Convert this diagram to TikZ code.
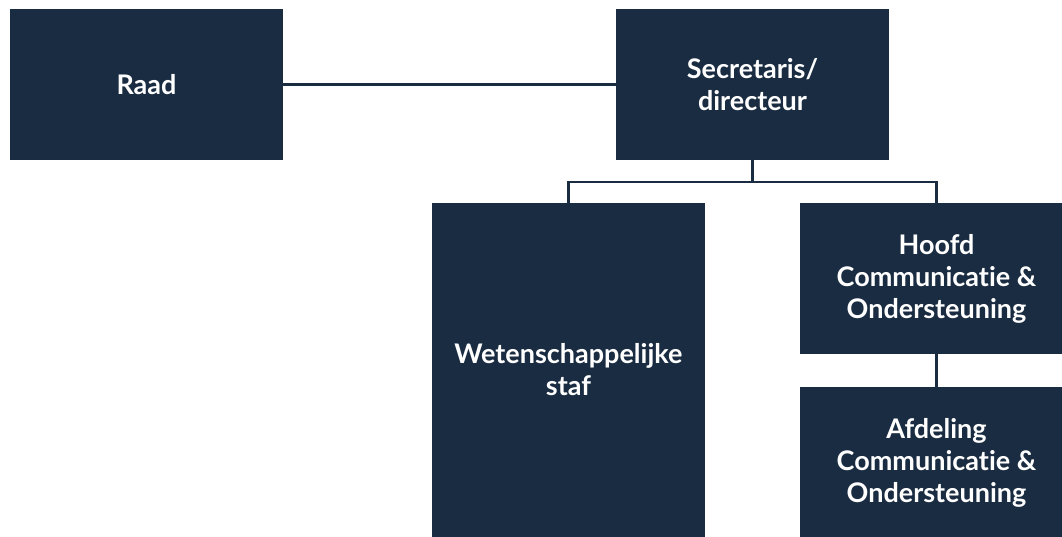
\documentclass[tikz,border=0pt]{standalone}
\usepackage{fontspec}
\setmainfont{Lato}[Ligatures={NoCommon,NoDiscretionary}]
\usepackage{xcolor}
\usetikzlibrary{positioning}
\definecolor{navy}{HTML}{1A2C41}

\begin{document}
\begin{tikzpicture}[x=1pt,y=-1pt]
    \tikzstyle{box} = [rectangle, fill=navy, text=white, align=center, inner sep=0pt,
        minimum width=273pt, minimum height=151pt,
        font=\fontsize{27}{32}\selectfont\bfseries]
    \tikzstyle{link} = [draw=navy, line width=2.2pt]
    \useasboundingbox (0,0) rectangle (1062,536);
    \node [box] (raad) at (146.5,84.5) {Raad};
    \node [box] (secr) at (752.5,84.5) {Secretaris/\\directeur};
    \node [box, minimum height=334pt] (staf) at (568.5,370) {Wetenschappelijke\\staf};
    \node [box] (hoofd) at (936.5,278.5) {Hoofd\\Communicatie \&\\Ondersteuning};
    \node [box] (afd) at (936.5,462.5) {Afdeling\\Communicatie \&\\Ondersteuning};
    \coordinate (split) at (752.5,182);
    \draw [link] (raad) -- (secr);
    \draw [link] (secr.south) -- (split) -| (staf.north);
    \draw [link] (split) -| (hoofd.north);
    \draw [link] (hoofd) -- (afd);
\end{tikzpicture}
\end{document}
